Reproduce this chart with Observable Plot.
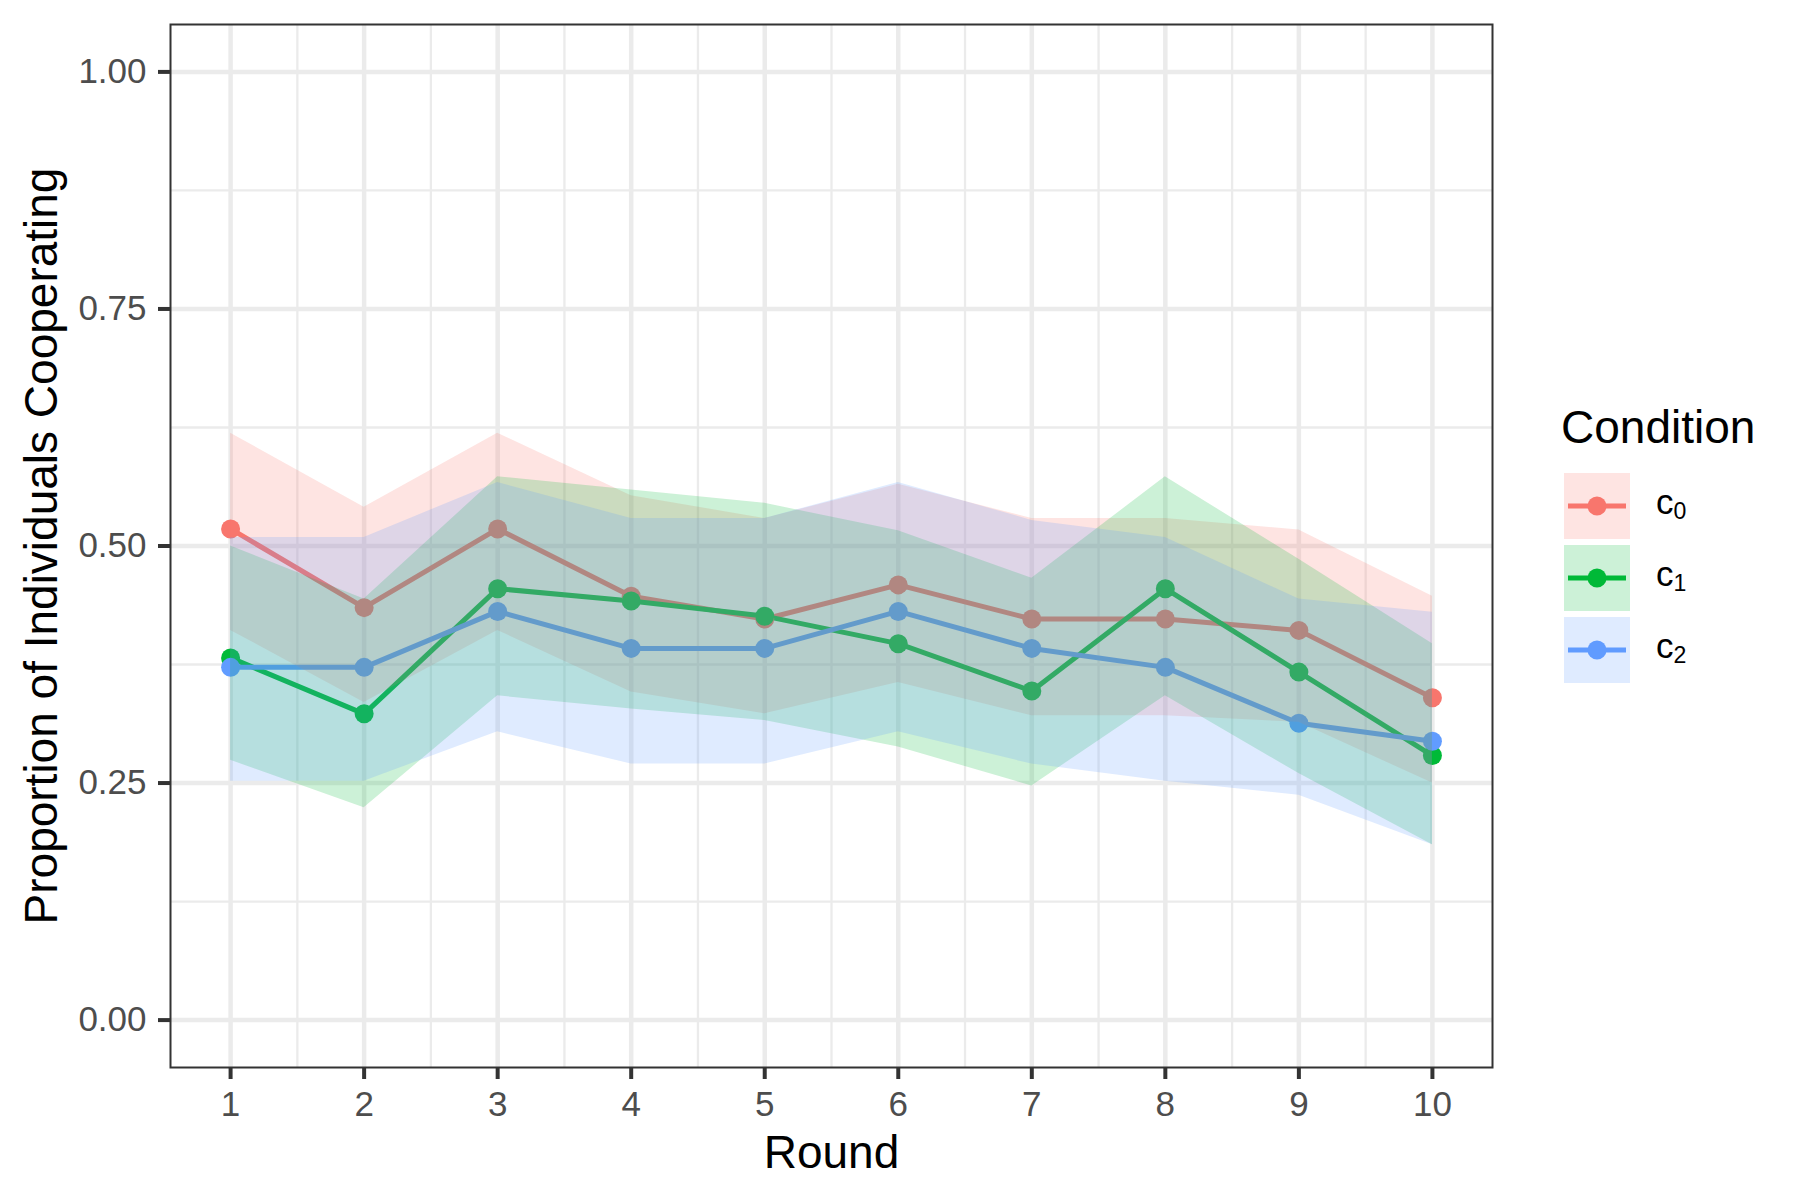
<!DOCTYPE html>
<html>
<head>
<meta charset="utf-8">
<script src="https://cdn.jsdelivr.net/npm/d3@7"></script>
<script src="https://cdn.jsdelivr.net/npm/@observablehq/plot@0.6"></script>
<style>
  html, body { margin: 0; padding: 0; background: #fff; }
  #wrap { position: relative; width: 1800px; height: 1200px; font-family: "Liberation Sans", Arial, Helvetica, sans-serif; }
  #legend { position: absolute; left: 1561px; top: 404px; color: #000; }
  #legend .title { font-size: 46px; line-height: 46px; height: 46px; margin-bottom: 23px; white-space: nowrap; }
  #legend .row { display: flex; height: 66px; margin-bottom: 6px; margin-left: 3px; }
  #legend .lab { font-size: 35px; line-height: 57px; margin-left: 26px; white-space: nowrap; }
  #legend .lab sub { font-size: 0.66em; vertical-align: -5px; line-height: 0; }
</style>
</head>
<body>
<div id="wrap"></div>
<script>
// ---- data ----
const rounds = [1, 2, 3, 4, 5, 6, 7, 8, 9, 10];
const conditions = ["c0", "c1", "c2"];
const conditionSubs = ["0", "1", "2"];
const colors = ["#F8766D", "#00BA38", "#619CFF"];

const c0Mean  = [0.518, 0.435, 0.518, 0.447, 0.423, 0.459, 0.423, 0.423, 0.411, 0.340];
const c0Lower = [0.411, 0.335, 0.411, 0.346, 0.323, 0.356, 0.321, 0.321, 0.314, 0.250];
const c0Upper = [0.619, 0.541, 0.619, 0.553, 0.529, 0.565, 0.529, 0.529, 0.517, 0.447];

const c1Mean  = [0.382, 0.323, 0.455, 0.442, 0.426, 0.397, 0.347, 0.455, 0.367, 0.279];
const c1Lower = [0.274, 0.224, 0.342, 0.328, 0.316, 0.288, 0.247, 0.342, 0.260, 0.185];
const c1Upper = [0.500, 0.444, 0.573, 0.559, 0.545, 0.516, 0.466, 0.573, 0.486, 0.397];

const c2Mean  = [0.372, 0.372, 0.431, 0.392, 0.392, 0.431, 0.392, 0.372, 0.313, 0.294];
const c2Lower = [0.252, 0.252, 0.304, 0.270, 0.270, 0.304, 0.270, 0.252, 0.237, 0.185];
const c2Upper = [0.509, 0.509, 0.567, 0.529, 0.529, 0.567, 0.527, 0.509, 0.444, 0.430];

const xTicks = [1, 2, 3, 4, 5, 6, 7, 8, 9, 10];
const xMinor = [1.5, 2.5, 3.5, 4.5, 5.5, 6.5, 7.5, 8.5, 9.5];
const yTicks = [0, 0.25, 0.5, 0.75, 1];
const yMinor = [0.125, 0.375, 0.625, 0.875];

const xTitle = "Round";
const yTitle = "Proportion of Individuals Cooperating";
const legendTitle = "Condition";

// ---- table ----
const series = [
  [c0Mean, c0Lower, c0Upper],
  [c1Mean, c1Lower, c1Upper],
  [c2Mean, c2Lower, c2Upper]
];
const table = [];
conditions.forEach((c, i) => {
  rounds.forEach((r, j) => {
    table.push({condition: c, round: r, mean: series[i][0][j], lower: series[i][1][j], upper: series[i][2][j]});
  });
});

const gridColor = "#EBEBEB";

const chart = Plot.plot({
  width: 1800,
  height: 1200,
  marginLeft: 170,
  marginRight: 308,
  marginTop: 24,
  marginBottom: 133,
  style: {fontFamily: "'Liberation Sans', Arial, Helvetica, sans-serif", background: "#fff"},
  x: {domain: [0.55, 10.45]},
  y: {domain: [-0.05, 1.05]},
  color: {domain: conditions, range: colors},
  marks: [
    Plot.gridX(xMinor, {stroke: gridColor, strokeOpacity: 1, strokeWidth: 2.3}),
    Plot.gridY(yMinor, {stroke: gridColor, strokeOpacity: 1, strokeWidth: 2.3}),
    Plot.gridX(xTicks, {stroke: gridColor, strokeOpacity: 1, strokeWidth: 4.5}),
    Plot.gridY(yTicks, {stroke: gridColor, strokeOpacity: 1, strokeWidth: 4.5}),
    Plot.line(table, {x: "round", y: "mean", stroke: "condition", z: "condition", strokeWidth: 5}),
    Plot.dot(table, {x: "round", y: "mean", fill: "condition", r: 9.5, stroke: null}),
    Plot.areaY(table, {x: "round", y1: "lower", y2: "upper", fill: "condition", z: "condition", fillOpacity: 0.2}),
    Plot.frame({stroke: "#333333", strokeWidth: 2}),
    Plot.axisX(xTicks, {tickSize: 12, tickPadding: 12, fontSize: 35, stroke: "#333333", strokeWidth: 4, fill: "#4D4D4D", label: null, tickFormat: d => String(d)}),
    Plot.axisY(yTicks, {tickSize: 12, tickPadding: 12, fontSize: 35, stroke: "#333333", strokeWidth: 4, fill: "#4D4D4D", label: null, tickFormat: d3.format(".2f")}),
    Plot.text([xTitle], {frameAnchor: "bottom", lineAnchor: "middle", textAnchor: "middle", dy: 86, fontSize: 46, fill: "#000", text: d => d}),
    Plot.text([yTitle], {frameAnchor: "left", lineAnchor: "middle", textAnchor: "middle", dx: -128, rotate: -90, fontSize: 46, fill: "#000", text: d => d})
  ]
});

const wrap = document.getElementById("wrap");
wrap.appendChild(chart);

// ---- legend ----
const legend = document.createElement("div");
legend.id = "legend";
const title = document.createElement("div");
title.className = "title";
title.textContent = legendTitle;
legend.appendChild(title);
const ns = "http://www.w3.org/2000/svg";
conditions.forEach((c, i) => {
  const row = document.createElement("div");
  row.className = "row";
  const svg = document.createElementNS(ns, "svg");
  svg.setAttribute("width", 66);
  svg.setAttribute("height", 66);
  const line = document.createElementNS(ns, "line");
  line.setAttribute("x1", 4); line.setAttribute("x2", 62);
  line.setAttribute("y1", 33); line.setAttribute("y2", 33);
  line.setAttribute("stroke", colors[i]); line.setAttribute("stroke-width", 5);
  svg.appendChild(line);
  const dot = document.createElementNS(ns, "circle");
  dot.setAttribute("cx", 33); dot.setAttribute("cy", 33); dot.setAttribute("r", 9.5);
  dot.setAttribute("fill", colors[i]);
  svg.appendChild(dot);
  const rect = document.createElementNS(ns, "rect");
  rect.setAttribute("width", 66); rect.setAttribute("height", 66);
  rect.setAttribute("fill", colors[i]); rect.setAttribute("fill-opacity", 0.2);
  svg.appendChild(rect);
  row.appendChild(svg);
  const lab = document.createElement("div");
  lab.className = "lab";
  lab.innerHTML = "c<sub>" + conditionSubs[i] + "</sub>";
  row.appendChild(lab);
  legend.appendChild(row);
});
wrap.appendChild(legend);
</script>
</body>
</html>
